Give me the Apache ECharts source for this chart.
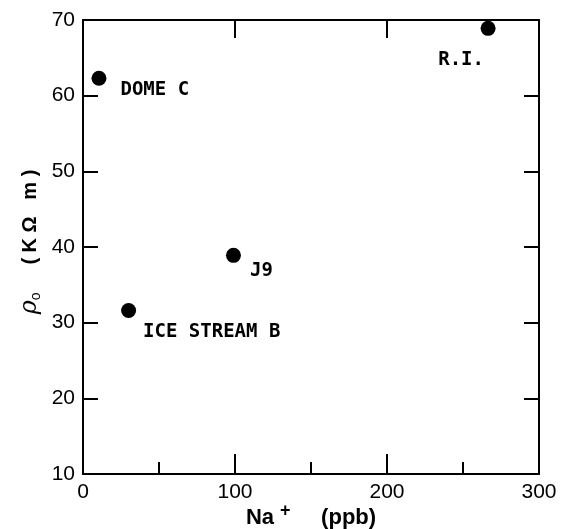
<!DOCTYPE html>
<html>
<head>
<meta charset="utf-8">
<script src="https://cdn.jsdelivr.net/npm/echarts@6/dist/echarts.min.js"></script>
<style>
  html, body { margin: 0; padding: 0; background: #fff; }
  #chart { width: 566px; height: 529px; }
</style>
</head>
<body>
<div id="chart"></div>
<script>
// site data
const sites = ["DOME C", "R.I.", "J9", "ICE STREAM B"];
const naPpb = [10.5, 266.5, 99, 30];
const rho0 = [62.3, 68.9, 38.9, 31.6];

const xTicks = [0, 100, 200, 300];
const yTicks = [10, 20, 30, 40, 50, 60, 70];

// where each site name sits relative to its dot
const labelPlace = {
  "DOME C": { position: "right", offset: [9, 12] },
  "R.I.": { position: "bottom", offset: [-27, 10] },
  "J9": { position: "right", offset: [4, 16] },
  "ICE STREAM B": { position: "right", offset: [2, 22] }
};

const tickFont = { color: "#000", fontSize: 21, fontFamily: "Liberation Sans" };

const points = sites.map(function(name, i) {
  return {
    name: name,
    value: [naPpb[i], rho0[i]],
    label: labelPlace[name]
  };
});

const frameLine = { onZero: false, lineStyle: { color: "#000", width: 2 } };

const option = {
  backgroundColor: "#fff",
  animation: false,
  grid: { left: 83, right: 27, top: 20, bottom: 55, outerBoundsMode: "none", containLabel: false },
  xAxis: [
    {
      type: "value",
      min: xTicks[0],
      max: xTicks[xTicks.length - 1],
      interval: 100,
      position: "bottom",
      name: "{t|Na}{sup|+}{t|     (ppb)}",
      nameLocation: "middle",
      nameGap: 28,
      nameMoveOverlap: false,
      nameTextStyle: {
        rich: {
          t: { fontSize: 22, fontFamily: "Liberation Sans", color: "#000", fontWeight: "bold" },
          sup: { fontSize: 18, fontFamily: "Liberation Sans", color: "#000", fontWeight: "bold", padding: [0, 0, 14, 6] }
        }
      },
      axisLine: frameLine,
      axisTick: { inside: true, length: 20, lineStyle: { color: "#000", width: 2 } },
      minorTick: { show: true, splitNumber: 2, length: 12, lineStyle: { color: "#000", width: 2 } },
      axisLabel: Object.assign({ margin: 8 }, tickFont),
      splitLine: { show: false }
    },
    {
      type: "value",
      min: xTicks[0],
      max: xTicks[xTicks.length - 1],
      interval: 100,
      position: "top",
      axisLine: frameLine,
      axisTick: { inside: true, length: 18, lineStyle: { color: "#000", width: 2 } },
      axisLabel: { show: false },
      splitLine: { show: false }
    }
  ],
  yAxis: [
    {
      type: "value",
      min: yTicks[0],
      max: yTicks[yTicks.length - 1],
      interval: 10,
      position: "left",
      name: "{rho|ρ}{sub|o}{t|     ( K Ω   m )}",
      nameLocation: "middle",
      nameGap: 40,
      nameMoveOverlap: false,
      nameRotate: 90,
      nameTextStyle: {
        padding: [0, 0, 0, 10],
        rich: {
          rho: { fontSize: 24, fontFamily: "DejaVu Serif", fontStyle: "italic", color: "#000" },
          sub: { fontSize: 14, fontFamily: "Liberation Sans", color: "#000", padding: [12, 0, 0, 0] },
          t: { fontSize: 20, fontFamily: "Liberation Sans", color: "#000", fontWeight: "bold" }
        }
      },
      axisLine: frameLine,
      axisTick: { inside: true, length: 15, lineStyle: { color: "#000", width: 2 } },
      axisLabel: Object.assign({ margin: 8 }, tickFont),
      splitLine: { show: false }
    },
    {
      type: "value",
      min: yTicks[0],
      max: yTicks[yTicks.length - 1],
      interval: 10,
      position: "right",
      axisLine: frameLine,
      axisTick: { inside: true, length: 15, lineStyle: { color: "#000", width: 2 } },
      axisLabel: { show: false },
      splitLine: { show: false }
    }
  ],
  series: [
    {
      type: "scatter",
      symbol: "circle",
      symbolSize: 15,
      itemStyle: { color: "#000", opacity: 1 },
      label: {
        show: true,
        formatter: "{b}",
        color: "#000",
        fontSize: 19,
        fontWeight: "bold",
        fontFamily: "DejaVu Sans Mono"
      },
      data: points
    }
  ]
};

const chart = echarts.init(document.getElementById("chart"));
chart.setOption(option);
</script>
</body>
</html>
